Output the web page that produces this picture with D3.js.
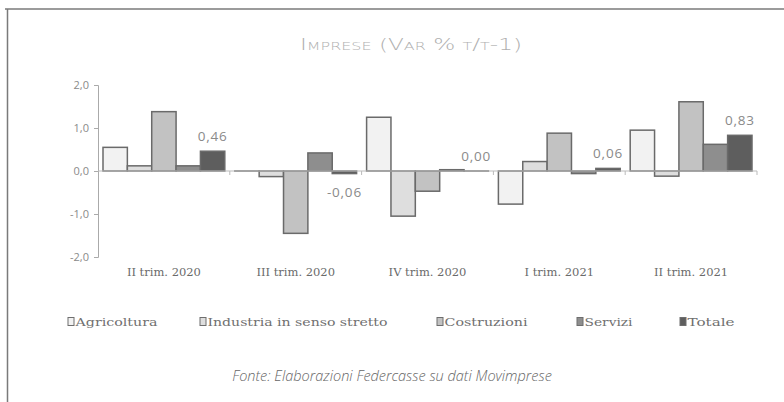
<!DOCTYPE html>
<html><head><meta charset="utf-8">
<script src="https://cdn.jsdelivr.net/npm/d3@7"></script>
<style>body{margin:0;background:#fff}svg{display:block}</style>
</head><body>
<svg id="c" width="784" height="402"></svg>
<script>
const categories = ["II trim. 2020","III trim. 2020","IV trim. 2020","I trim. 2021","II trim. 2021"];
const seriesNames = ["Agricoltura","Industria in senso stretto","Costruzioni","Servizi","Totale"];
const agricoltura = [0.55, 0.00, 1.25, -0.77, 0.95];
const industria = [0.12, -0.13, -1.05, 0.22, -0.12];
const costruzioni = [1.38, -1.45, -0.47, 0.88, 1.61];
const servizi = [0.12, 0.42, 0.03, -0.06, 0.62];
const totale = [0.46, -0.06, 0.00, 0.06, 0.83];
const totaleLabels = ["0,46","-0,06","0,00","0,06","0,83"];
const yTicks = [2, 1, 0, -1, -2];
const yTickLabels = ["2,0","1,0","0,0","-1,0","-2,0"];
const colors = ["#f2f2f2","#dedede","#c2c2c2","#8e8e8e","#5e5e5e"];

const seriesValues = [agricoltura, industria, costruzioni, servizi, totale];
const svg = d3.select("#c");

// frame
svg.append("line").attr("x1",5).attr("x2",784).attr("y1",9).attr("y2",9).attr("stroke","#7a7a7a").attr("stroke-width",1.5);
svg.append("line").attr("x1",7.5).attr("x2",7.5).attr("y1",9).attr("y2",402).attr("stroke","#7a7a7a").attr("stroke-width",1.5);

// title
svg.append("text").attr("x",411).attr("y",50).attr("text-anchor","middle")
  .attr("font-family","'DejaVu Sans', sans-serif").attr("font-weight",200).attr("font-size",16)
  .attr("font-variant","small-caps").attr("fill","#b0b0b0")
  .attr("textLength",222).attr("lengthAdjust","spacingAndGlyphs").text("Imprese (Var % t/t-1)");

const x0 = d3.scaleBand().domain(categories).range([98,757]);
const x1 = d3.scaleBand().domain(seriesNames).range([5, x0.bandwidth()-5]);
const y = d3.scaleLinear().domain([-2,2]).range([257,85]);

// y axis
const yAxis = d3.axisLeft(y).tickValues(yTicks).tickSize(4).tickFormat((d,i)=>yTickLabels[i]);
const ga = svg.append("g").attr("transform","translate(98,0)").call(yAxis);
ga.select(".domain").attr("stroke","#aaaaaa");
ga.selectAll(".tick line").attr("stroke","#aaaaaa");
ga.selectAll(".tick text").attr("font-family","'Open Sans', sans-serif").attr("font-size",11).attr("fill","#8a8a8a").attr("x",-9);

// bars
const groups = svg.append("g").selectAll("g").data(categories).join("g")
  .attr("transform", d=>`translate(${x0(d)},0)`);
groups.selectAll("rect").data((c,ci)=>seriesNames.map((s,si)=>({s,si,v:seriesValues[si][ci]})))
  .join("rect")
  .attr("x", d=>x1(d.s)).attr("width", x1.bandwidth())
  .attr("y", d=>y(Math.max(0,d.v))).attr("height", d=>Math.max(0.01,Math.abs(y(d.v)-y(0))))
  .attr("fill", d=>colors[d.si]).attr("stroke","#6a6a6a").attr("stroke-width",1.5);

// zero line with group ticks
svg.append("line").attr("x1",98).attr("x2",757).attr("y1",y(0)).attr("y2",y(0)).attr("stroke","#bbbbbb").attr("stroke-width",1);
const bounds = categories.map(c=>x0(c)+x0.bandwidth());
svg.selectAll(".gt").data(bounds).join("line").attr("x1",d=>d).attr("x2",d=>d)
  .attr("y1",y(0)).attr("y2",y(0)+4).attr("stroke","#bbbbbb");

// category labels
svg.selectAll(".cl").data(categories).join("text")
  .attr("x", d=>x0(d)+x0.bandwidth()/2).attr("y",276).attr("text-anchor","middle")
  .attr("font-family","'DejaVu Serif', serif").attr("font-size",11.5).attr("fill","#6a6a6a").text(d=>d);

// totale labels
svg.selectAll(".tl").data(categories).join("text")
  .attr("x",(d)=>x0(d)+x1("Totale")+x1.bandwidth()/2)
  .attr("y",(d,i)=> totale[i] < 0 ? y(totale[i])+23 : y(totale[i])-10)
  .attr("text-anchor","middle").attr("font-family","'Open Sans', sans-serif").attr("font-size",13.5)
  .attr("letter-spacing",0.8).attr("fill","#8a8a8a").text((d,i)=>totaleLabels[i]);

// legend
const legendX = [68, 200, 437, 577, 680];
const legendW = [82, 180, 83, 48, 47];
const lg = svg.selectAll(".lg").data(seriesNames).join("g").attr("transform",(d,i)=>`translate(${legendX[i]},322)`);
lg.append("rect").attr("x",0).attr("y",-4.5).attr("width",6).attr("height",8).attr("fill",(d,i)=>colors[i]).attr("stroke","#6e6e6e").attr("stroke-width",1);
lg.append("text").attr("x",7.5).attr("y",4).attr("font-family","'DejaVu Serif', serif").attr("font-size",11.5)
  .attr("textLength",(d,i)=>legendW[i]).attr("lengthAdjust","spacingAndGlyphs")
  .attr("fill","#707070").text(d=>d);

// source
svg.append("text").attr("x",392).attr("y",381).attr("text-anchor","middle")
  .attr("font-family","'Open Sans', sans-serif").attr("font-style","italic").attr("font-weight",300).attr("font-size",14.5)
  .attr("fill","#666666").text("Fonte: Elaborazioni Federcasse su dati Movimprese");
</script>
</body></html>
